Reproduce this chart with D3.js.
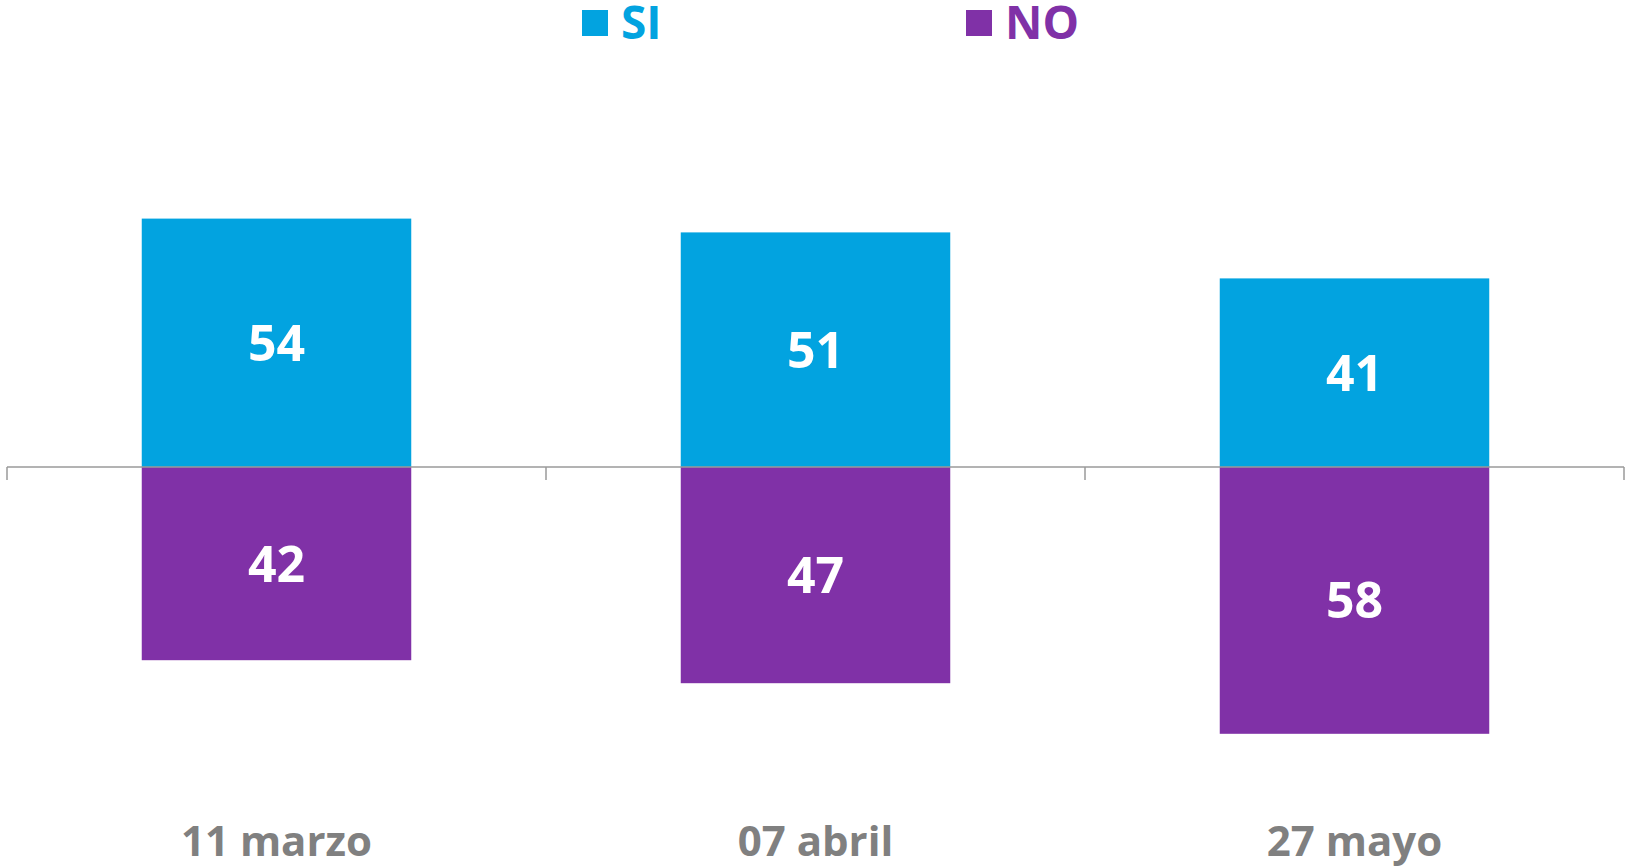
<!DOCTYPE html>
<html>
<head>
<meta charset="utf-8">
<script src="https://cdn.jsdelivr.net/npm/d3@7"></script>
<style>
  html, body { margin: 0; padding: 0; background: #fff; }
  svg { display: block; font-family: "Open Sans", "Lato", sans-serif; }
</style>
</head>
<body>
<svg id="chart" width="1625" height="868"></svg>
<script>
// data
var categories = ["11 marzo", "07 abril", "27 mayo"];
var siValues = [54, 51, 41];
var noValues = [42, 47, 58];
var seriesNames = ["SI", "NO"];
var seriesColors = ["#02A3E0", "#8031A7"];

var svg = d3.select("#chart");

var x = d3.scaleBand()
    .domain(categories)
    .range([7, 1624])
    .paddingInner(0.5)
    .paddingOuter(0.25);

// zero line sits at 467, about 4.6px per point
var y = d3.scaleLinear()
    .domain([-60, 60])
    .range([743, 191]);

var rows = categories.map(function(c, i) {
    return {cat: c, si: siValues[i], no: noValues[i]};
});

// SI bars go up
svg.append("g").selectAll("rect")
    .data(rows)
    .join("rect")
    .attr("x", function(d) { return x(d.cat); })
    .attr("y", function(d) { return y(d.si); })
    .attr("width", x.bandwidth())
    .attr("height", function(d) { return y(0) - y(d.si); })
    .attr("fill", seriesColors[0]);

// NO bars go down
svg.append("g").selectAll("rect")
    .data(rows)
    .join("rect")
    .attr("x", function(d) { return x(d.cat); })
    .attr("y", y(0))
    .attr("width", x.bandwidth())
    .attr("height", function(d) { return y(-d.no) - y(0); })
    .attr("fill", seriesColors[1]);

// axis line with ticks at band boundaries
var axis = svg.append("g").attr("stroke", "#9a9a9a").attr("stroke-width", 1.5);
axis.append("line")
    .attr("x1", x.range()[0]).attr("x2", x.range()[1])
    .attr("y1", y(0)).attr("y2", y(0));

var bounds = categories.map(function(c) {
    return x(c) - x.step() * x.paddingInner() / 2;
});
bounds.push(x.range()[1]);
axis.selectAll("line.tick")
    .data(bounds)
    .join("line")
    .attr("class", "tick")
    .attr("x1", function(d) { return d; }).attr("x2", function(d) { return d; })
    .attr("y1", y(0)).attr("y2", y(0) + 13);

// value labels
var labels = svg.append("g")
    .attr("fill", "#fff")
    .attr("font-weight", 700)
    .attr("font-size", 50)
    .attr("text-anchor", "middle");

labels.selectAll("text.si")
    .data(rows)
    .join("text")
    .attr("class", "si")
    .attr("x", function(d) { return x(d.cat) + x.bandwidth() / 2; })
    .attr("y", function(d) { return (y(d.si) + y(0)) / 2; })
    .attr("dy", "0.36em")
    .text(function(d) { return d.si; });

labels.selectAll("text.no")
    .data(rows)
    .join("text")
    .attr("class", "no")
    .attr("x", function(d) { return x(d.cat) + x.bandwidth() / 2; })
    .attr("y", function(d) { return (y(-d.no) + y(0)) / 2; })
    .attr("dy", "0.36em")
    .text(function(d) { return d.no; });

// category labels
svg.append("g").selectAll("text")
    .data(categories)
    .join("text")
    .attr("x", function(d) { return x(d) + x.bandwidth() / 2; })
    .attr("y", 856)
    .attr("text-anchor", "middle")
    .attr("font-size", 42)
    .attr("font-weight", 700)
    .attr("fill", "#808080")
    .text(function(d) { return d; });

// legend
var legendX = [582, 966];
var legend = svg.append("g").selectAll("g")
    .data(seriesNames)
    .join("g")
    .attr("transform", function(d, i) { return "translate(" + legendX[i] + ",10)"; });

legend.append("rect")
    .attr("width", 26).attr("height", 26)
    .attr("fill", function(d, i) { return seriesColors[i]; });

legend.append("text")
    .attr("x", 39)
    .attr("y", 29)
    .attr("font-size", 46)
    .attr("font-weight", 700)
    .attr("fill", function(d, i) { return seriesColors[i]; })
    .text(function(d) { return d; });
</script>
</body>
</html>
